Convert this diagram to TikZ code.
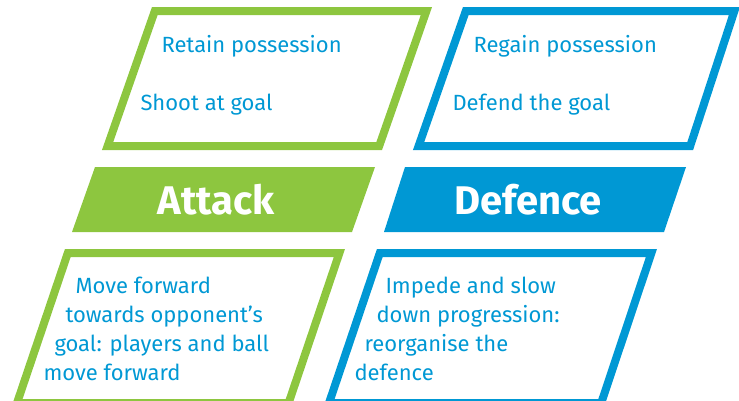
\documentclass[tikz,border=0pt]{standalone}
\usepackage{fontspec}
\setmainfont{Fira Sans}
\definecolor{pitchgreen}{RGB}{141,198,63}
\definecolor{pitchblue}{RGB}{0,152,212}

\tikzset{every picture/.style={line width=0.75pt}}
\tikzset{
  frame/.style={line width=6pt, line join=miter},
  band/.style={draw=none},
  phase/.style={anchor=base, inner sep=0.75pt, text=white, font=\fontsize{30}{34}\selectfont\bfseries},
  aim/.style={anchor=base west, inner sep=0pt, text=pitchblue, font=\fontsize{16.5}{20}\selectfont},
}

\begin{document}
\begin{tikzpicture}[x=0.75pt,y=0.75pt,yscale=-1]
\useasboundingbox (0,0) rectangle (739,400);
\clip (0,0) rectangle (739,400);

%Shape: Parallelogram [attack aims]
\draw [frame, color=pitchgreen] (154.8,11) -- (426.4,11) -- (379.2,146) -- (107.6,146) -- cycle ;
%Shape: Parallelogram [defence aims]
\draw [frame, color=pitchblue] (465.8,11) -- (734.4,11) -- (690.2,146) -- (418.6,146) -- cycle ;
%Shape: Parallelogram [attack band]
\fill [band, pitchgreen] (95,167) -- (375,167) -- (352,232) -- (72,232) -- cycle ;
%Shape: Parallelogram [defence band]
\fill [band, pitchblue] (405,167) -- (686,167) -- (664,232) -- (384,232) -- cycle ;
%Shape: Parallelogram [attack principle]
\draw [frame, color=pitchgreen] (67.8,253) -- (339.4,253) -- (288.6,403) -- (17,403) -- cycle ;
%Shape: Parallelogram [defence principle]
\draw [frame, color=pitchblue] (379.8,253) -- (651.4,253) -- (601.2,403) -- (329,403) -- cycle ;

% Text Node
\node [aim] (retain) at (161,52) {Retain possession};
% Text Node
\node [aim] (shoot) at (140,110) {Shoot at goal};
% Text Node
\node [aim] (regain) at (473,52) {Regain possession};
% Text Node
\node [aim] (defend) at (452,110) {Defend the goal};
% Text Node
\node [phase] (attack) at (216,214) {Attack};
% Text Node
\node [phase] (defence) at (528,214) {Defence};
% Text Node
\node [aim] (mvA) at (75,293) {Move forward};
\node [aim] (mvB) at (65,322) {towards opponent’s};
\node [aim] (mvC) at (54,351) {goal: players and ball};
\node [aim] (mvD) at (43,380) {move forward};
% Text Node
\node [aim] (impA) at (385,293) {Impede and slow};
\node [aim] (impB) at (376,322) {down progression:};
\node [aim] (impC) at (364,351) {reorganise the};
\node [aim] (impD) at (354,380) {defence};

\end{tikzpicture}
\end{document}
